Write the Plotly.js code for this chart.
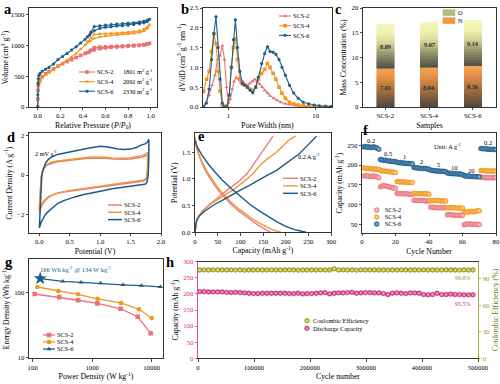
<!DOCTYPE html>
<html><head><meta charset="utf-8">
<script src="https://cdn.plot.ly/plotly-3.0.1.min.js"></script>
<style>html,body{margin:0;padding:0;background:#fff}#chart{width:500px;height:384px}</style>
</head><body><div id="chart"></div>
<script>
// ---------- data ----------
const sampleNames = ['SCS-2','SCS-4','SCS-6'];
const surfaceArea = [1801, 2092, 2330];
// (a) N2 isotherms
const isoPads = [0.0,0.001,0.003,0.006,0.01,0.02,0.04,0.07,0.1,0.14,0.18,0.22,0.26,0.3,0.34,0.38,0.42,0.46,0.5,0.55,0.6,0.65,0.7,0.75,0.8,0.85,0.9,0.94,0.97,0.99];
const isoPdes = [0.97,0.94,0.9,0.85,0.8,0.75,0.7,0.65,0.6,0.55,0.5,0.47,0.44];
const iso2ads = [0,130,270,350,400,440,490,540,575,620,665,705,740,770,805,840,870,900,930,950,962,970,976,982,988,995,1002,1010,1020,1035];
const iso2des = [1025,1015,1008,1002,996,992,988,984,980,975,965,925,885];
const iso4ads = [0,120,260,340,390,430,480,525,560,610,660,710,760,810,870,940,1010,1070,1115,1140,1155,1165,1172,1180,1186,1195,1210,1235,1275,1335];
const iso4des = [1300,1265,1240,1225,1215,1208,1202,1198,1195,1190,1180,1120,1060];
const iso6ads = [0,200,380,460,510,545,580,615,640,700,770,820,870,925,980,1040,1100,1170,1240,1280,1295,1305,1315,1322,1330,1340,1355,1370,1390,1425];
const iso6des = [1410,1395,1380,1370,1362,1355,1348,1340,1332,1322,1310,1215,1140];
// (b) pore size distribution
const pw2 = [0.5,0.55,0.6,0.65,0.7,0.75,0.8,0.85,0.9,0.95,1.0,1.05,1.1,1.16,1.23,1.3,1.38,1.46,1.55,1.65,1.76,1.88,2.0,2.13,2.27,2.42,2.6,2.8,3.0,3.3,3.6,4.0,4.5,5.0,5.7,6.5,7.5,8.6,10,12,15];
const dv2 = [0.0,0.1,0.3,0.55,0.8,1.2,1.3,1.55,1.2,0.5,0.1,0.2,0.45,0.65,0.75,0.7,0.62,0.65,0.58,0.55,0.6,0.65,0.7,0.65,0.58,0.5,0.42,0.35,0.28,0.22,0.17,0.12,0.08,0.06,0.04,0.03,0.02,0.02,0.01,0.01,0.0];
const pw4 = [0.48,0.52,0.56,0.6,0.64,0.68,0.72,0.76,0.8,0.85,0.9,0.96,1.02,1.08,1.14,1.2,1.27,1.35,1.44,1.54,1.65,1.77,1.9,2.05,2.2,2.4,2.6,2.8,3.0,3.25,3.5,3.8,4.1,4.5,5.0,5.6,6.3,7.2,8.3,9.6,11,13,15];
const dv4 = [0.15,0.4,0.7,0.9,1.4,1.85,1.6,0.9,0.4,0.05,0.02,0.03,0.3,1.0,1.5,1.72,1.2,0.7,0.58,0.55,0.5,0.45,0.42,0.5,0.7,0.85,0.95,1.1,1.0,0.85,0.7,0.5,0.35,0.22,0.12,0.08,0.05,0.03,0.02,0.02,0.01,0.01,0.0];
const pw6 = [0.52,0.56,0.6,0.64,0.68,0.72,0.76,0.8,0.85,0.9,0.96,1.02,1.08,1.14,1.2,1.27,1.35,1.44,1.54,1.65,1.77,1.9,2.05,2.2,2.4,2.6,2.8,3.0,3.25,3.5,3.8,4.1,4.5,5.0,5.6,6.3,7.2,8.3,9.6,11,13,15];
const dv6 = [0.0,0.1,0.45,1.2,1.85,2.28,1.5,0.7,0.1,0.0,0.0,0.3,1.0,1.7,2.2,1.5,0.9,0.6,0.55,0.5,0.42,0.36,0.5,0.75,1.1,1.35,1.52,1.4,1.38,1.33,1.2,1.0,0.8,0.55,0.35,0.22,0.12,0.08,0.05,0.03,0.02,0.01];
// (c) heteroatom content
const nitrogen = [7.81, 8.04, 8.36];
const oxygen = [8.89, 9.07, 9.14];
// (d) CV at 2 mV/s
const cvV6 = [0.0,0.01,0.02,0.03,0.04,0.06,0.08,0.1,0.15,0.2,0.3,0.4,0.5,0.6,0.7,0.8,0.9,1.0,1.1,1.2,1.3,1.4,1.5,1.6,1.65,1.7,1.75,1.78,1.8,1.8,1.79,1.77,1.75,1.7,1.6,1.5,1.4,1.3,1.2,1.1,1.0,0.9,0.8,0.7,0.6,0.5,0.4,0.3,0.2,0.15,0.1,0.06,0.03,0.01,0.0];
const cvI6 = [-2.7,-1.8,-1.0,-0.4,-0.05,0.25,0.45,0.6,0.8,0.92,1.05,1.12,1.18,1.24,1.3,1.36,1.42,1.46,1.44,1.38,1.32,1.3,1.32,1.4,1.5,1.55,1.6,1.7,1.82,0.9,0.0,-0.35,-0.45,-0.48,-0.52,-0.56,-0.6,-0.65,-0.7,-0.76,-0.82,-0.88,-0.95,-1.02,-1.1,-1.19,-1.3,-1.45,-1.7,-1.85,-2.0,-2.2,-2.4,-2.6,-2.7];
const cvV = [0.0,0.01,0.02,0.03,0.05,0.08,0.1,0.15,0.2,0.3,0.4,0.5,0.6,0.7,0.8,0.9,1.0,1.1,1.2,1.3,1.4,1.5,1.6,1.7,1.75,1.78,1.78,1.76,1.72,1.65,1.6,1.5,1.4,1.3,1.2,1.1,1.0,0.9,0.8,0.7,0.6,0.5,0.4,0.3,0.2,0.15,0.1,0.06,0.03,0.01,0.0];
const cvI4 = [-1.9,-1.2,-0.5,-0.1,0.2,0.4,0.48,0.58,0.65,0.72,0.76,0.8,0.84,0.87,0.9,0.92,0.92,0.9,0.87,0.85,0.85,0.88,0.93,1.0,1.08,1.15,0.3,-0.15,-0.25,-0.28,-0.3,-0.34,-0.38,-0.42,-0.46,-0.5,-0.54,-0.58,-0.62,-0.68,-0.72,-0.78,-0.85,-0.92,-1.05,-1.15,-1.3,-1.45,-1.65,-1.8,-1.9];
const cvI2 = [-1.75,-1.1,-0.45,-0.1,0.18,0.36,0.44,0.54,0.6,0.68,0.72,0.76,0.79,0.82,0.85,0.87,0.87,0.85,0.82,0.8,0.8,0.82,0.86,0.92,0.98,1.03,0.25,-0.18,-0.3,-0.33,-0.35,-0.38,-0.42,-0.46,-0.5,-0.54,-0.58,-0.62,-0.66,-0.7,-0.75,-0.8,-0.86,-0.93,-1.02,-1.1,-1.23,-1.37,-1.55,-1.68,-1.75];
// (e) GCD at 0.2 A/g
const ch2C = [0,1,3,8,15,25,40,55,70,85,100,115,130,145,160,172];
const ch2U = [0,0.12,0.2,0.3,0.38,0.47,0.58,0.68,0.78,0.88,0.98,1.1,1.28,1.48,1.66,1.8];
const dc2C = [0,3,8,15,25,35,45,55,65,80,95,110,125,140,150,160,167];
const dc2U = [1.78,1.6,1.46,1.3,1.12,0.98,0.86,0.75,0.65,0.52,0.41,0.31,0.22,0.13,0.08,0.03,0];
const ch4C = [0,1,3,8,15,25,40,55,70,85,100,115,130,145,160,177,192,206,215,222];
const ch4U = [0,0.12,0.2,0.3,0.38,0.46,0.56,0.64,0.72,0.8,0.9,1.0,1.12,1.27,1.38,1.48,1.6,1.72,1.77,1.8];
const dc4C = [0,3,8,15,25,35,45,55,65,80,95,110,125,140,155,170,182,190];
const dc4U = [1.78,1.62,1.48,1.33,1.16,1.02,0.9,0.79,0.69,0.56,0.45,0.35,0.26,0.18,0.11,0.05,0.02,0];
const ch6C = [0,1,3,6,10,20,30,45,60,80,100,120,140,160,180,200,215,230,245,258,268];
const ch6U = [0,0.12,0.2,0.26,0.31,0.39,0.45,0.53,0.6,0.7,0.79,0.88,0.98,1.07,1.16,1.28,1.38,1.47,1.6,1.72,1.8];
const dc6C = [0,5,15,30,45,60,80,100,120,140,160,180,200,220,235,245];
const dc6U = [1.72,1.6,1.45,1.27,1.12,0.98,0.82,0.67,0.53,0.41,0.3,0.2,0.11,0.05,0.02,0];
// (f) rate performance
const cycles = [1,2,3,4,5,6,7,8,9,10,11,12,13,14,15,16,17,18,19,20,21,22,23,24,25,26,27,28,29,30,31,32,33,34,35,36,37,38,39,40,41,42,43,44,45,46,47,48,49,50,51,52,53,54,55,56,57,58,59,60,61,62,63,64,65,66,67,68,69,70,71,72,73,74,75,76,77,78,79,80];
const cap2 = [172,173,172,172,171,171,172,171,170,168,145,147,148,147,146,145,144,143,142,141,128,128,127,127,127,127,127,126,126,126,111,111,110,110,110,110,110,109,109,109,93,93,93,92,92,92,92,92,92,92,74,74,74,74,73,73,73,73,73,73,49,50,51,51,51,50,50,50,50,49,169,169,168,168,168,168,168,168,168,168];
const cap4 = [193,192,192,191,191,190,190,190,189,189,186,185,185,184,184,183,183,182,182,181,158,158,157,157,157,157,156,156,156,156,128,128,128,127,127,127,127,127,127,126,110,110,110,110,110,110,109,109,109,109,92,92,92,92,92,91,91,91,91,91,82,81,81,82,83,82,82,83,84,84,186,186,186,185,185,185,185,185,185,185];
const cap6 = [246,247,245,246,244,245,246,244,243,240,214,213,212,212,211,210,210,209,209,208,207,206,206,205,205,204,204,204,203,203,194,193,193,192,192,191,191,191,190,190,187,186,186,185,185,185,184,184,184,183,180,179,179,178,178,178,177,177,177,176,173,172,172,172,171,171,171,170,170,170,242,241,241,241,240,240,240,240,239,239];
const rateLabels = ['0.2','0.5','1','2','5','10','20','0.2'];
// (g) Ragone
const pd2 = [108,280,580,1220,3000,5800,9600];
const ed2 = [96,86,77,69,57,43,24];
const pd4 = [120,270,580,1230,3050,6100,10000];
const ed4 = [123,107,95,81,70,56,41];
const pd6 = [134,320,650,1380,3300,6700,14000];
const ed6 = [166,150,145,141,133,129,124];
// (h) long cycling
const hCycle = [3000,11000,19000,27000,35000,43000,51000,59000,67000,75000,83000,91000,99000,107000,115000,123000,131000,139000,147000,155000,163000,171000,179000,187000,195000,203000,211000,219000,227000,235000,243000,251000,259000,267000,275000,283000,291000,299000,307000,315000,323000,331000,339000,347000,355000,363000,371000,379000,387000,395000,403000,411000,419000,427000,435000,443000,451000,459000,467000,475000,483000,491000];
const hCap = [207,207,206,206,206,206,205,204,205,204,203,202,201,201,202,202,202,202,202,202,201,201,202,200,201,201,202,203,204,200,202,203,203,204,205,202,203,204,204,203,203,201,198,202,203,202,201,203,203,202,198,197,198,202,198,198,199,198,198,197,197,197];
const hCE = [99.8,99.9,99.8,100.0,99.9,99.8,99.8,99.9,99.7,99.8,99.6,99.8,99.8,99.9,99.8,99.8,99.9,99.8,99.8,99.9,100.0,99.8,99.7,99.8,99.8,99.8,99.8,99.9,99.8,99.8,101.2,99.8,99.9,99.8,99.8,99.7,99.9,99.8,99.8,99.9,99.8,99.8,99.7,99.8,99.8,99.9,99.8,99.8,99.8,99.8,99.9,99.8,99.8,99.8,99.8,99.9,99.8,99.8,99.7,99.9,99.8,99.8];
const ceLabel = '99.8%';
const capLabel = '95.5%';

// ---------- styling ----------
const W = 500, H = 384;
const F = '"Liberation Serif","Times New Roman",serif';
const col = ['#e8737b','#f2961c','#1d5e8a'];
const ballCenter = ['#ffd9dc','#ffe1aa','#9ec4e2'];
const MAG = '#d61f7c', OLV = '#9b9b12';
const dom = (x0,x1,y0,y1) => ({x:[x0/W,x1/W], y:[1-y1/H,1-y0/H]});
function axis(o){ return Object.assign({showline:true,linecolor:'#000',linewidth:0.8,mirror:true,ticks:'outside',ticklen:2.5,tickwidth:0.7,tickcolor:'#000',showgrid:false,zeroline:false,tickfont:{family:F,size:6.8,color:'#000'}}, o); }
function ttl(text, extra){ return Object.assign({text, font:{family:F,size:7.8,color:'#000'}, standoff:3}, extra||{}); }

const D = {
  a: dom(29,157,8,107), b: dom(203,332,8,107), c: dom(363,496,8,107),
  d: dom(29,161,133,233), e: dom(195,331,133,232.3), f: dom(362,496,133,233),
  g: dom(29,163,259,358.3), h: dom(198,478,261.7,358.3)
};

const traces = [];
// (a)
const isoAds = [iso2ads, iso4ads, iso6ads], isoDes = [iso2des, iso4des, iso6des];
const symA = ['square','triangle-up','pentagon'];
sampleNames.forEach((n,i)=>{
  traces.push({type:'scatter', mode:'lines+markers', x: isoPads.concat(isoPdes), y: isoAds[i].concat(isoDes[i]),
    xaxis:'x', yaxis:'y', legend:'legend',
    name: n + '\u00a0\u00a0\u00a0\u00a0\u00a0\u00a0' + surfaceArea[i] + ' m<sup>2</sup> g<sup>-1</sup>',
    line:{color:col[i], width:1.1}, marker:{symbol:symA[i], size:3.6, color:col[i]}});
});
// (b)
const pwAll = [pw2,pw4,pw6], dvAll = [dv2,dv4,dv6];
const symB = ['triangle-up','square','pentagon'];
sampleNames.forEach((n,i)=>{
  traces.push({type:'scatter', mode:'lines+markers', x: pwAll[i], y: dvAll[i], xaxis:'x2', yaxis:'y2', legend:'legend2',
    name:n, line:{color:col[i], width:1.1}, marker:{symbol:symB[i], size:3.6, color:col[i]}});
});
// (c) gradient stacked bars
const K = 16;
function hex2rgb(h){return [1,3,5].map(k=>parseInt(h.substr(k,2),16));}
function grad(stops,t){
  for(let s=1;s<stops.length;s++){ if(t<=stops[s][0]){ const a=stops[s-1], b=stops[s]; const u=(t-a[0])/(b[0]-a[0]);
    const ca=hex2rgb(a[1]), cb=hex2rgb(b[1]); return 'rgb('+ca.map((v,j)=>Math.round(v+(cb[j]-v)*u)).join(',')+')'; } }
  return stops[stops.length-1][1];
}
const gN = [[0,'#4d4640'],[0.45,'#a8703e'],[0.8,'#e89448'],[1,'#f4a452']];
const gO = [[0,'#4e4e46'],[0.3,'#8e8e68'],[0.6,'#d8d898'],[0.8,'#f0f0b0'],[1,'#f6f6bc']];
[[nitrogen,gN,'N',2,13],[oxygen,gO,'O',1,7]].forEach(([arr,stops,nm,rank,legK])=>{
  for(let k=0;k<K;k++){
    const c = grad(stops,(k+0.5)/K);
    traces.push({type:'bar', x: sampleNames, y: arr.map(v=>v/K), xaxis:'x3', yaxis:'y3', width:0.4,
      marker:{color:c, line:{color:c, width:0.6}}, name:nm, showlegend:k===legK, legend:'legend3', legendrank:rank, hoverinfo:'skip'});
  }
});
// (d)
const cvX = [cvV, cvV, cvV6], cvY = [cvI2, cvI4, cvI6];
const colD = ['#e87c80','#ec9a3a','#1a5a85'];
sampleNames.forEach((n,i)=>{
  traces.push({type:'scatter', mode:'lines', x: cvX[i], y: cvY[i], xaxis:'x4', yaxis:'y4', legend:'legend4', name:n,
    line:{color:colD[i], width:1.5}});
});
// (e)
const chC=[ch2C,ch4C,ch6C], chU=[ch2U,ch4U,ch6U], dcC=[dc2C,dc4C,dc6C], dcU=[dc2U,dc4U,dc6U];
sampleNames.forEach((n,i)=>{
  traces.push({type:'scatter', mode:'lines', x: chC[i].concat([null], dcC[i]), y: chU[i].concat([null], dcU[i]),
    xaxis:'x5', yaxis:'y5', legend:'legend5', name:n, line:{color:colD[i], width:1.4}});
});
// (f)
const capAll = [cap2,cap4,cap6];
sampleNames.forEach((n,i)=>{
  traces.push({type:'scatter', mode:'markers', x: cycles, y: capAll[i], xaxis:'x6', yaxis:'y6', legend:'legend6', name:n,
    marker:{symbol:'circle', size:5, color:col[i], gradient:{type:'radial', color:ballCenter[i]}, line:{width:0.3, color:col[i]}}});
});
// (g)
const pdAll=[pd2,pd4,pd6], edAll=[ed2,ed4,ed6];
const symG=['square','circle','triangle-up'];
sampleNames.forEach((n,i)=>{
  traces.push({type:'scatter', mode:'lines+markers', x: pdAll[i], y: edAll[i], xaxis:'x7', yaxis:'y7', legend:'legend7', name:n,
    line:{color:col[i], width:1.3}, marker:{symbol:symG[i], size:4.6, color:col[i]}});
});
traces.push({type:'scatter', mode:'markers', x:[pd6[0]], y:[ed6[0]], xaxis:'x7', yaxis:'y7', showlegend:false,
  marker:{symbol:'star', size:10, color:col[2]}});
// (h)
traces.push({type:'scatter', mode:'markers', x:hCycle, y:hCE, xaxis:'x8', yaxis:'y9', legend:'legend8', name:'Coulombic Efficiency',
  marker:{size:4.8, color:OLV, gradient:{type:'radial', color:'#eded95'}, line:{width:0.3, color:'#6a6a08'}}});
traces.push({type:'scatter', mode:'markers', x:hCycle, y:hCap, xaxis:'x8', yaxis:'y8', legend:'legend8', name:'Discharge Capacity',
  marker:{size:4.8, color:MAG, gradient:{type:'radial', color:'#f9b9d8'}, line:{width:0.3, color:'#8a0f4c'}}});

// ---------- annotations ----------
const ann = [];
// panel letters: [letter, left x, y, anchor]
const panelLab = [['a',3,0,'top'],['b',180,0,'top'],['c',334,0,'top'],['d',6,137,'middle'],['e',197,136,'middle'],['f',362,130,'middle'],['g',4,262,'middle'],['h',165,262,'middle']];
panelLab.forEach(([t,x,y,va])=>ann.push({xref:'paper',yref:'paper',x:x/W,y:1-y/H,xanchor:'left',yanchor:va,showarrow:false,borderpad:0,
  text:'<b>'+t+'</b>', font:{family:F,size:14.5,color:'#000'}}));
sampleNames.forEach((s,i)=>{
  ann.push({xref:'x3',yref:'y3',x:s,y:nitrogen[i]/2,text:'<b>'+nitrogen[i].toFixed(2)+'</b>',showarrow:false,font:{family:F,size:6.3,color:'#2a2a2a'}});
  ann.push({xref:'x3',yref:'y3',x:s,y:nitrogen[i]+oxygen[i]/2,text:'<b>'+oxygen[i].toFixed(2)+'</b>',showarrow:false,font:{family:F,size:6.3,color:'#2a2a2a'}});
});
ann.push({xref:'x4 domain',yref:'y4 domain',x:0.03,y:0.86,xanchor:'left',showarrow:false,text:'2 mV s<sup>-1</sup>',font:{family:F,size:6.3,color:'#000'}});
ann.push({xref:'x5 domain',yref:'y5 domain',x:0.935,y:0.83,xanchor:'right',showarrow:false,text:'0.2 A g<sup>-1</sup>',font:{family:F,size:6.3,color:'#000'}});
ann.push({xref:'x6 domain',yref:'y6 domain',x:0.75,y:0.93,showarrow:false,text:'Unit: A g<sup>-1</sup>',font:{family:F,size:6.3,color:'#000'}});
rateLabels.forEach((r,i)=>{
  const blk = cap6.slice(i*10,i*10+10), cyc = cycles.slice(i*10,i*10+10);
  ann.push({xref:'x6',yref:'y6',x:(cyc[0]+cyc[cyc.length-1])/2,y:Math.max(...blk)+14,showarrow:false,text:r,font:{family:F,size:6.5,color:'#000'}});
});
ann.push({xref:'x7',yref:'y7',x:Math.log10(pd6[0])-0.03,y:Math.log10(ed6[0])+0.14,xanchor:'left',showarrow:false,
  text:ed6[0]+' Wh kg<sup>-1</sup> @ '+pd6[0]+' W kg<sup>-1</sup>',font:{family:F,size:6.5,color:col[2]}});
ann.push({xref:'x8',yref:'y9',x:hCycle[hCycle.length-1],y:hCE[hCE.length-1],yshift:-8,xanchor:'right',showarrow:false,text:ceLabel,font:{family:F,size:6,color:OLV}});
ann.push({xref:'x8',yref:'y8',x:hCycle[hCycle.length-1],y:hCap[hCap.length-1],yshift:-9,xanchor:'right',showarrow:false,text:capLabel,font:{family:F,size:6,color:MAG}});

const legBase = {x:0,y:1,xanchor:'left',yanchor:'top',bgcolor:'rgba(0,0,0,0)',borderwidth:0,font:{family:F,size:6.3,color:'#000'},traceorder:'normal'};
const layout = {
  width:W, height:H, margin:{l:0,r:0,t:0,b:0}, paper_bgcolor:'#fff', plot_bgcolor:'#fff',
  font:{family:F,color:'#000'}, barmode:'stack', showlegend:true, annotations:ann,
  legend:Object.assign({},legBase), legend2:Object.assign({},legBase), legend3:Object.assign({},legBase), legend4:Object.assign({},legBase),
  legend5:Object.assign({},legBase), legend6:Object.assign({},legBase), legend7:Object.assign({},legBase), legend8:Object.assign({},legBase),
  xaxis: axis({domain:D.a.x, anchor:'y', range:[-0.077,1.056], tickvals:[0,0.2,0.4,0.6,0.8,1.0], ticktext:['0.0','0.2','0.4','0.6','0.8','1.0'],
    title:ttl('Relative Pressure (<i>P</i>/<i>P</i><sub>0</sub>)')}),
  yaxis: axis({domain:D.a.y, anchor:'x', range:[0,1610], tickvals:[0,500,1000,1500], title:ttl('Volume (cm<sup>3</sup> g<sup>-1</sup>)')}),
  xaxis2: axis({domain:D.b.x, anchor:'y2', type:'log', range:[-0.292,1.187], tickvals:[1,10], ticktext:['1','10'], title:ttl('Pore Width (nm)')}),
  yaxis2: axis({domain:D.b.y, anchor:'x2', range:[0,2.5], tickvals:[0,0.5,1,1.5,2,2.5], ticktext:['0.0','0.5','1.0','1.5','2.0','2.5'],
    title:ttl('dV/dD (cm<sup>3</sup> g<sup>-1</sup> nm<sup>-1</sup>)')}),
  xaxis3: axis({domain:D.c.x, anchor:'y3', type:'category', range:[-0.51,2.53], title:ttl('Samples')}),
  yaxis3: axis({domain:D.c.y, anchor:'x3', range:[0,20], tickvals:[0,5,10,15,20], title:ttl('Mass Concentration (%)')}),
  xaxis4: axis({domain:D.d.x, anchor:'y4', range:[-0.17,2.0], tickvals:[0,0.5,1,1.5,2], ticktext:['0.0','0.5','1.0','1.5','2.0'], title:ttl('Potential (V)')}),
  yaxis4: axis({domain:D.d.y, anchor:'x4', range:[-2.95,2.14], tickvals:[-2,0,2], title:ttl('Current Density (A g<sup>-1</sup>)')}),
  xaxis5: axis({domain:D.e.x, anchor:'y5', range:[0,300], tickvals:[0,50,100,150,200,250,300], title:ttl('Capacity (mAh g<sup>-1</sup>)')}),
  yaxis5: axis({domain:D.e.y, anchor:'x5', range:[0,1.86], tickvals:[0,0.5,1,1.5], ticktext:['0.0','0.5','1.0','1.5'], title:ttl('Potential (V)')}),
  xaxis6: axis({domain:D.f.x, anchor:'y6', range:[0,80], tickvals:[0,20,40,60,80], title:ttl('Cycle Number')}),
  yaxis6: axis({domain:D.f.y, anchor:'x6', range:[28,281], tickvals:[50,100,150,200,250], title:ttl('Capacity (mAh g<sup>-1</sup>)')}),
  xaxis7: axis({domain:D.g.x, anchor:'y7', type:'log', range:[1.938,4.19], tickvals:[100,1000,10000], ticktext:['100','1000','10000'], title:ttl('Power Density (W kg<sup>-1</sup>)')}),
  yaxis7: axis({domain:D.g.y, anchor:'x7', type:'log', range:[0.995,2.52], tickvals:[10,100], ticktext:['10','100'], title:ttl('Energy Density (Wh kg<sup>-1</sup>)')}),
  xaxis8: axis({domain:D.h.x, anchor:'y8', range:[0,500000], tickvals:[0,100000,200000,300000,400000,500000], ticktext:['0','100000','200000','300000','400000','500000'], title:ttl('Cycle number')}),
  yaxis8: axis({domain:D.h.y, anchor:'x8', range:[0,300], tickvals:[0,50,100,150,200,250,300], mirror:false, linecolor:MAG, tickcolor:MAG,
    tickfont:{family:F,size:6.8,color:MAG}, title:ttl('Capacity (mAh g<sup>-1</sup>)')}),
  yaxis9: axis({overlaying:'y8', side:'right', anchor:'x8', range:[0,109.2], tickvals:[0,30,60,90], mirror:false, linecolor:OLV, tickcolor:OLV,
    tickfont:{family:F,size:6.8,color:OLV}, title:ttl('Coulombic Efficiency (%)', {font:{family:F,size:7.8,color:'#77770c'}})})
};

// legend placement: left x of swatch, centre y of first entry, row spacing, swatch length, text gap
const legSpec = {
  legend:{x:79,y:72,dy:9.6,L:16,gap:2}, legend2:{x:279,y:16,dy:9.7,L:12,gap:2}, legend3:{x:443,y:12.7,dy:8,L:12,gap:3,bar:true},
  legend4:{x:108,y:205,dy:7.3,L:14,gap:2}, legend5:{x:283,y:178.3,dy:7.5,L:15,gap:2}, legend6:{x:373.7,y:210,dy:7,L:6,gap:5},
  legend7:{x:43,y:335,dy:7,L:12,gap:2}, legend8:{x:305,y:320.7,dy:7.6,L:4,gap:4}
};
function fixLegends(gd){
  Object.keys(legSpec).forEach(id=>{
    const s = legSpec[id];
    const lg = gd.querySelector('g.' + id);
    if(!lg) return;
    lg.setAttribute('transform','translate('+s.x+','+s.y+')');
    lg.querySelectorAll('g.scrollbox').forEach(sb=>{ sb.removeAttribute('clip-path'); sb.setAttribute('transform','translate(0,0)'); });
    lg.querySelectorAll('rect.bg, rect.scrollbar').forEach(r=>r.style.display='none');
    lg.querySelectorAll('g.traces').forEach((it,i)=>{
      it.setAttribute('transform','translate(0,'+(i*s.dy)+')');
      it.querySelectorAll('path.js-line').forEach(p=>p.setAttribute('d','M0,0h'+s.L));
      it.querySelectorAll('g.legendpoints path, g.legendsymbols path').forEach(p=>{
        if(p.getAttribute('transform')) p.setAttribute('transform','translate('+(s.L/2)+',0)');
        if(s.bar) p.setAttribute('d','M6,3H-6V-3H6Z');
      });
      const target = s.L + s.gap;
      it.querySelectorAll('text').forEach(t=>{
        t.setAttribute('x', target);
        t.querySelectorAll('tspan.line').forEach(ts=>ts.setAttribute('x', target));
      });
    });
  });
}
Plotly.newPlot('chart', traces, layout, {staticPlot:true, displayModeBar:false}).then(gd=>{
  fixLegends(gd);
});
</script></body></html>
